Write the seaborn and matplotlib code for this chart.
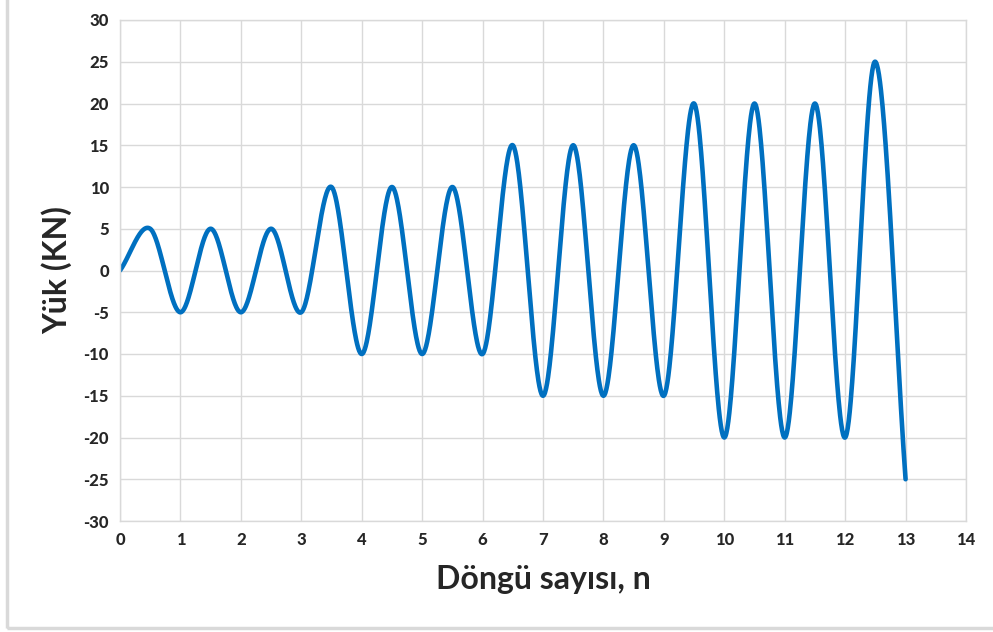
import numpy as np
import pandas as pd
import matplotlib
matplotlib.use("Agg")
import matplotlib.pyplot as plt
import seaborn as sns

# Data: load at each half cycle (peak / trough)
cycle_n = [0, 0.5, 1, 1.5, 2, 2.5, 3, 3.5, 4, 4.5, 5, 5.5, 6, 6.5, 7, 7.5, 8,
           8.5, 9, 9.5, 10, 10.5, 11, 11.5, 12, 12.5, 13]
load_kn = [0, 5, -5, 5, -5, 5, -5, 10, -10, 10, -10, 10, -10, 15, -15, 15, -15,
           15, -15, 20, -20, 20, -20, 20, -20, 25, -25]
x_ticks = list(range(0, 15))
y_ticks = list(range(-30, 35, 5))


def smooth_line(x, y, per=60):
    """Cubic Hermite (Catmull-Rom style) smoothing, like a smoothed line chart."""
    x = np.asarray(x, float)
    y = np.asarray(y, float)
    m = np.zeros_like(y)
    m[1:-1] = (y[2:] - y[:-2]) / (x[2:] - x[:-2])
    m[0] = (y[1] - y[0]) / (x[1] - x[0])
    m[-1] = (y[-1] - y[-2]) / (x[-1] - x[-2])
    xs, ys = [], []
    for i in range(len(x) - 1):
        h = x[i + 1] - x[i]
        t = np.linspace(0, 1, per, endpoint=(i == len(x) - 2))
        h00 = 2 * t**3 - 3 * t**2 + 1
        h10 = t**3 - 2 * t**2 + t
        h01 = -2 * t**3 + 3 * t**2
        h11 = t**3 - t**2
        xs.append(x[i] + t * h)
        ys.append(h00 * y[i] + h10 * h * m[i] + h01 * y[i + 1] + h11 * h * m[i + 1])
    return np.concatenate(xs), np.concatenate(ys)


sx, sy = smooth_line(cycle_n, load_kn)
df = pd.DataFrame({"n": sx, "load": sy})

sns.set_style("white")
plt.rcParams["font.family"] = ["Lato", "DejaVu Sans"]
plt.rcParams["axes.unicode_minus"] = False

fig = plt.figure(figsize=(9.93, 6.32), dpi=100)
ax = fig.add_axes([120 / 993, 1 - 521 / 632, (966 - 120) / 993, (521 - 20) / 632])

# outer frame (left and bottom visible)
fig.patches.append(plt.Rectangle((7 / 993, 1 - 628 / 632), 1.2, 1.2,
                                 transform=fig.transFigure, fill=False,
                                 edgecolor="#d9d9d9", linewidth=2.5))

sns.lineplot(data=df, x="n", y="load", ax=ax, color="#0070C0", linewidth=3.3,
             sort=False, estimator=None)

ax.set_xlim(0, 14)
ax.set_ylim(-30, 30)
ax.set_xticks(x_ticks)
ax.set_yticks(y_ticks)
ax.grid(True, color="#d9d9d9", linewidth=1.0)
ax.set_axisbelow(True)
for s in ax.spines.values():
    s.set_color("#d9d9d9")
    s.set_linewidth(1.0)
ax.tick_params(axis="both", length=0, labelsize=12, pad=8)
for lab in ax.get_xticklabels() + ax.get_yticklabels():
    lab.set_fontweight("black")
ax.set_xlabel("Döngü sayısı, n", fontsize=23, fontweight="bold", labelpad=12)
ax.set_ylabel("Yük (KN)", fontsize=23, fontweight="bold", labelpad=8)

fig.savefig("out.png", dpi=100, facecolor="white")
